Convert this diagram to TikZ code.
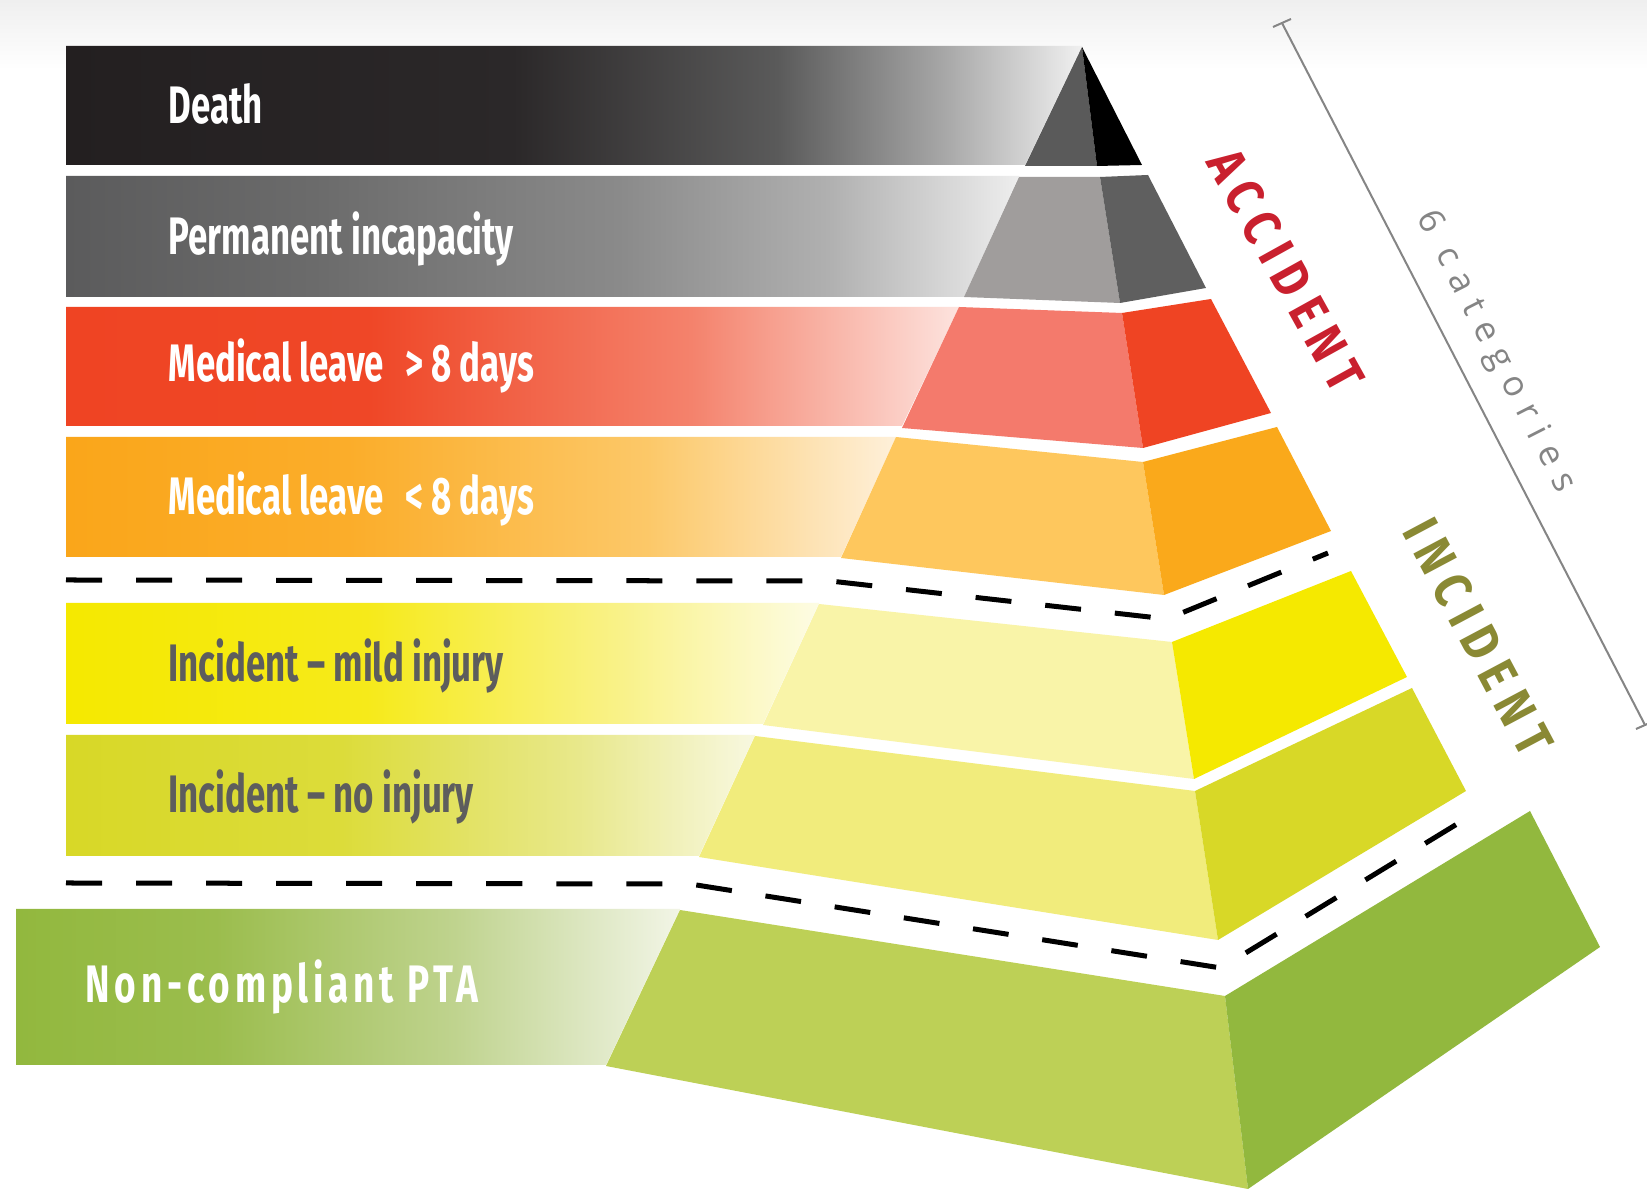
\documentclass[tikz,border=0pt]{standalone}
\usepackage{fontspec}
\usepackage{tikz}
\setmainfont{Fira Sans}
\newfontfamily\labelfont[FakeStretch=0.66]{Fira Sans}
\newfontfamily\ptafont[FakeStretch=0.7,LetterSpace=9]{Fira Sans}
\newfontfamily\sidefont[FakeStretch=0.85,LetterSpace=19]{Fira Sans}
\newfontfamily\catfont[LetterSpace=32]{Open Sans}

\definecolor{topgray}{HTML}{EFEFEF}
\definecolor{deathband}{HTML}{231F20}
\definecolor{deathfront}{HTML}{5A5A5A}
\definecolor{permband}{HTML}{5B5B5C}
\definecolor{permfront}{HTML}{A09D9C}
\definecolor{permside}{HTML}{5F5F5F}
\definecolor{highband}{HTML}{EF4423}
\definecolor{highfront}{HTML}{F47A6C}
\definecolor{lowband}{HTML}{FAA61A}
\definecolor{lowfront}{HTML}{FEC75D}
\definecolor{lowside}{HTML}{FAA91B}
\definecolor{mildband}{HTML}{F5E900}
\definecolor{mildfront}{HTML}{F9F4A8}
\definecolor{noband}{HTML}{D8D827}
\definecolor{nofront}{HTML}{F1EC7C}
\definecolor{ptaband}{HTML}{92B83E}
\definecolor{ptafront}{HTML}{BDD056}
\definecolor{accred}{HTML}{C9202E}
\definecolor{incolive}{HTML}{8A8934}
\definecolor{labelgray}{HTML}{5D5D5D}
\definecolor{catgray}{HTML}{858585}

% fades of the left bands
\definecolor{d1}{HTML}{2B2829}\definecolor{d2}{HTML}{5A5A5A}\definecolor{d3}{HTML}{A5A5A5}\definecolor{d4}{HTML}{F0F0F0}
\definecolor{p1}{HTML}{6B6B6B}\definecolor{p2}{HTML}{8A8A8A}\definecolor{p3}{HTML}{B0B0B0}\definecolor{p4}{HTML}{EEEEEE}
\definecolor{h1}{HTML}{EF4727}\definecolor{h2}{HTML}{F4826C}\definecolor{h3}{HTML}{FDE3DE}
\definecolor{l1}{HTML}{FBAD2A}\definecolor{l2}{HTML}{FCC868}\definecolor{l3}{HTML}{FEF0DA}
\definecolor{m1}{HTML}{F6EA1A}\definecolor{m2}{HTML}{F9F28A}\definecolor{m3}{HTML}{FDFCE4}
\definecolor{n1}{HTML}{DCDC3A}\definecolor{n2}{HTML}{E8E88A}\definecolor{n3}{HTML}{F8F8E0}
\definecolor{g1}{HTML}{9BBD4D}\definecolor{g2}{HTML}{BFD38E}\definecolor{g3}{HTML}{F2F5E6}

\pgfdeclarehorizontalshading{deathfade}{100bp}{color(0bp)=(deathband); color(25bp)=(deathband); color(47bp)=(d1); color(60bp)=(d2); color(68bp)=(d3); color(75bp)=(d4); color(100bp)=(d4)}
\pgfdeclarehorizontalshading{permfade}{100bp}{color(0bp)=(permband); color(25bp)=(permband); color(38bp)=(p1); color(54bp)=(p2); color(65bp)=(p3); color(75bp)=(p4); color(100bp)=(p4)}
\pgfdeclarehorizontalshading{highfade}{100bp}{color(0bp)=(highband); color(25bp)=(highband); color(42bp)=(h1); color(60bp)=(h2); color(75bp)=(h3); color(100bp)=(h3)}
\pgfdeclarehorizontalshading{lowfade}{100bp}{color(0bp)=(lowband); color(25bp)=(lowband); color(42bp)=(l1); color(60bp)=(l2); color(75bp)=(l3); color(100bp)=(l3)}
\pgfdeclarehorizontalshading{mildfade}{100bp}{color(0bp)=(mildband); color(25bp)=(mildband); color(45bp)=(m1); color(62bp)=(m2); color(75bp)=(m3); color(100bp)=(m3)}
\pgfdeclarehorizontalshading{nofade}{100bp}{color(0bp)=(noband); color(25bp)=(noband); color(45bp)=(n1); color(62bp)=(n2); color(75bp)=(n3); color(100bp)=(n3)}
\pgfdeclarehorizontalshading{ptafade}{100bp}{color(0bp)=(ptaband); color(25bp)=(ptaband); color(40bp)=(g1); color(58bp)=(g2); color(75bp)=(g3); color(100bp)=(g3)}

\begin{document}
\begin{tikzpicture}[x=0.01cm, y=-0.01cm,
  tier/.style={font=\labelfont\bfseries\fontsize{15}{18}\selectfont, anchor=base west, inner sep=0pt, text=white},
  side/.style={font=\sidefont\bfseries\fontsize{15}{17}\selectfont, inner sep=0pt},
  dashline/.style={line width=0.05cm, dash pattern=on 0.36cm off 0.34cm}]
\useasboundingbox (0,0) rectangle (1647,1189);
\fill[white] (0,0) rectangle (1647,1189);
\shade[top color=topgray, bottom color=white] (0,0) rectangle (1647,70);

% left bands
\shade[shading=deathfade] (66,46) -- (1082,46) -- (1025,165) -- (66,165) -- cycle;
\shade[shading=permfade] (66,176) -- (1019,176) -- (964,297) -- (66,297) -- cycle;
\shade[shading=highfade] (66,307) -- (959,307) -- (902,426) -- (66,426) -- cycle;
\shade[shading=lowfade] (66,437) -- (896,437) -- (841,557) -- (66,557) -- cycle;
\shade[shading=mildfade] (66,603) -- (819,603) -- (763,724) -- (66,724) -- cycle;
\shade[shading=nofade] (66,735) -- (755,735) -- (699,856) -- (66,856) -- cycle;
\shade[shading=ptafade] (16,909) -- (680,909) -- (606,1065) -- (16,1065) -- cycle;

% pyramid
\fill[deathfront] (1082,47) -- (1097,166) -- (1025,166) -- cycle;
\fill[black] (1082,47) -- (1142,165) -- (1097,166) -- cycle;
\fill[permfront] (1019,177) -- (1100,177) -- (1120,303) -- (964,297) -- cycle;
\fill[permside] (1100,177) -- (1148,175) -- (1206,288) -- (1120,303) -- cycle;
\fill[highfront] (959,307) -- (1122,313) -- (1143,448) -- (902,428) -- cycle;
\fill[highband] (1122,313) -- (1211,299) -- (1271,413) -- (1143,448) -- cycle;
\fill[lowfront] (896,437) -- (1143,462) -- (1164,595) -- (841,558) -- cycle;
\fill[lowside] (1143,462) -- (1277,427) -- (1331,531) -- (1164,595) -- cycle;
\fill[mildfront] (819,604) -- (1172,642) -- (1194,779) -- (763,725) -- cycle;
\fill[mildband] (1172,642) -- (1351,571) -- (1407,677) -- (1194,779) -- cycle;
\fill[nofront] (755,736) -- (1195,791) -- (1218,940) -- (699,857) -- cycle;
\fill[noband] (1195,791) -- (1412,688) -- (1466,791) -- (1218,940) -- cycle;
\fill[ptafront] (680,910) -- (1225,996) -- (1248,1189) -- (606,1066) -- cycle;
\fill[ptaband] (1225,996) -- (1530,811) -- (1600,947) -- (1248,1189) -- cycle;

% dashed separators
\draw[dashline] (66,580) -- (830,581) -- (1167,619) -- (1328,553);
\draw[dashline] (66,883) -- (690,884) -- (1221,968) -- (1480,810);

% labels
\node[tier] (death) at (168,124) {Death};
\node[tier] (perm) at (168,255) {Permanent incapacity};
\node[tier] (medhigh) at (168,382) {Medical leave\hspace{0.4em}> 8 days};
\node[tier] (medlow) at (168,515) {Medical leave\hspace{0.4em}< 8 days};
\node[tier, text=labelgray] (mild) at (168,682) {Incident \textendash\ mild injury};
\node[tier, text=labelgray] (noinj) at (168,813) {Incident \textendash\ no injury};
\node[tier, font=\ptafont\bfseries\fontsize{15}{18}\selectfont] (pta) at (85,1003) {Non-compliant PTA};

% side texts
\node[side, text=accred, rotate=-61] (accident) at (1286,270) {ACCIDENT};
\node[side, text=incolive, rotate=-62] (incident) at (1478,637) {INCIDENT};
\coordinate (ctop) at (1282,23);
\coordinate (cbot) at (1645,725);
\draw[catgray, line width=0.02cm] (ctop) -- (cbot);
\draw[catgray, line width=0.02cm] ([shift={(-9,4)}]ctop) -- ([shift={(9,-4)}]ctop);
\draw[catgray, line width=0.02cm] ([shift={(-9,4)}]cbot) -- ([shift={(9,-4)}]cbot);
\node[catgray, font=\catfont\fontsize{10}{12}\selectfont, inner sep=0pt, rotate=-63] (cats) at (1495,352) {6 categories};
\end{tikzpicture}
\end{document}
